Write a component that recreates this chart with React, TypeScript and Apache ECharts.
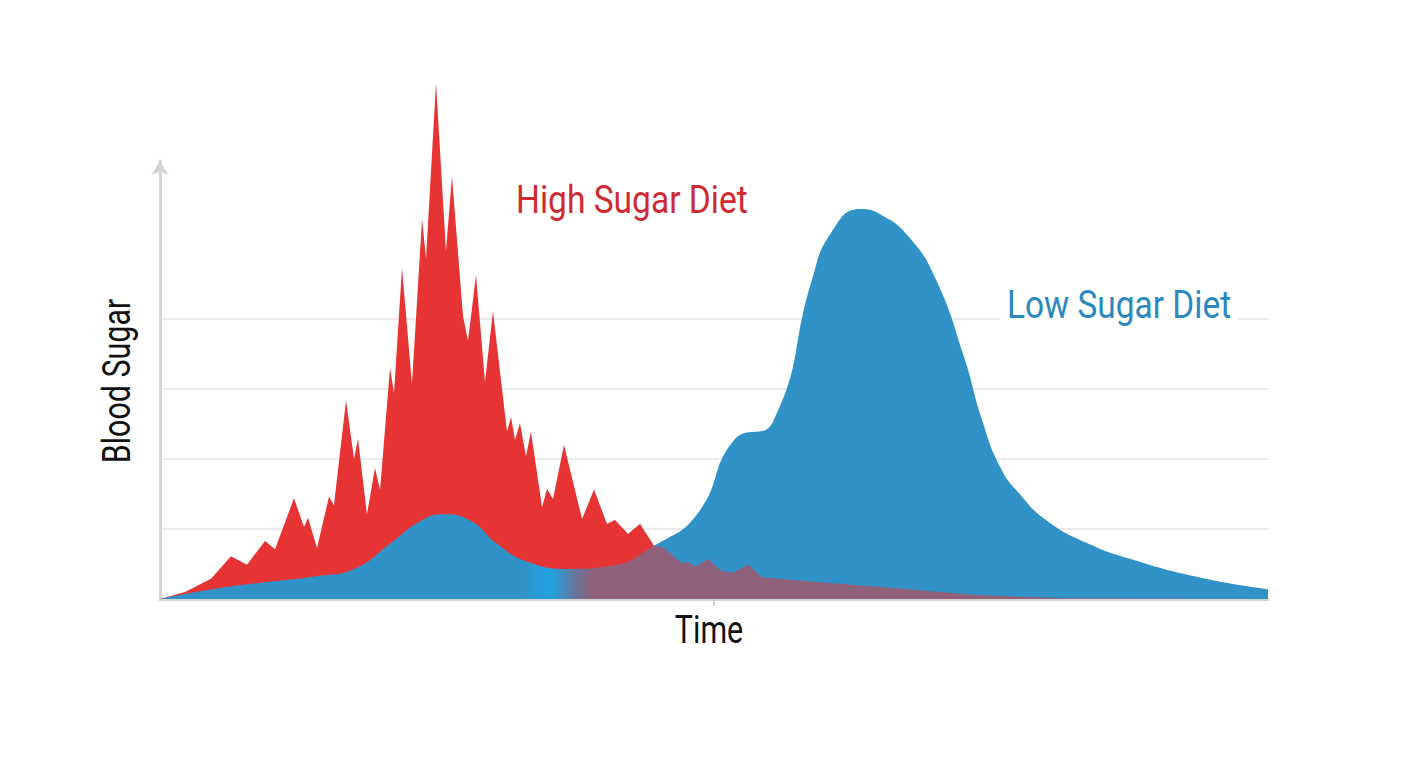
import React, { useEffect, useRef } from "react";
import * as echarts from "echarts";

// High sugar diet: time (0-100) and blood sugar (gridline units)
const redTime = [0, 2.26, 4.6, 6.41, 7.85, 9.48, 10.38, 12.09, 13.0, 13.36, 14.17, 15.25, 15.7, 16.79, 17.51, 17.87, 18.68, 19.4, 19.86, 20.76, 21.12, 21.84, 22.74, 23.65, 24.01, 24.91, 25.81, 26.35, 27.35, 27.8, 28.52, 29.33, 30.05, 31.32, 31.68, 32.04, 32.49, 33.03, 33.48, 34.48, 34.93, 35.47, 36.46, 38.09, 39.17, 40.34, 41.06, 42.24, 43.32, 44.58, 45.4, 47.11, 47.65, 48.29, 49.46, 50.54, 51.62, 53.07, 54.33, 55.14, 59.57, 65.07, 73.38, 81.68, 100];
const redSugar = [0, 0.1, 0.29, 0.61, 0.49, 0.83, 0.71, 1.44, 1.03, 1.16, 0.73, 1.46, 1.34, 2.84, 2.0, 2.29, 1.21, 1.87, 1.56, 3.3, 2.94, 4.73, 3.07, 5.43, 4.86, 7.37, 4.97, 6.04, 4.04, 3.69, 4.63, 3.1, 4.11, 2.39, 2.6, 2.27, 2.51, 2.04, 2.39, 1.31, 1.57, 1.43, 2.2, 1.14, 1.56, 1.07, 1.13, 0.93, 1.07, 0.76, 0.74, 0.51, 0.53, 0.46, 0.57, 0.41, 0.37, 0.49, 0.31, 0.3, 0.24, 0.17, 0.06, 0.01, 0];

// Low sugar diet
const blueTime = [0, 3.61, 7.85, 14.26, 17.51, 20.76, 23.38, 25.45, 27.89, 30.42, 33.03, 36.91, 40.61, 44.58, 48.56, 51.81, 55.32, 58.84, 60.56, 63.18, 65.07, 67.6, 70.04, 72.56, 74.19, 75.81, 77.53, 79.96, 83.66, 87.82, 94.04, 100];
const blueSugar = [0, 0.11, 0.21, 0.33, 0.43, 0.79, 1.1, 1.21, 1.13, 0.79, 0.54, 0.43, 0.47, 0.76, 1.23, 2.27, 2.53, 4.56, 5.23, 5.57, 5.49, 5.17, 4.56, 3.46, 2.56, 1.89, 1.51, 1.13, 0.8, 0.56, 0.3, 0.14];

const gridLevels = [0, 1, 2, 3, 4];
const timeTicks = [50];

const xLabel = "Time";
const yLabel = "Blood Sugar";
const redLabel = "High Sugar Diet";
const blueLabel = "Low Sugar Diet";

const RED = "#e63333";
const BLUE = "#3192c7";
const FONT = "Roboto, 'Liberation Sans', sans-serif";

export default function App() {
  const ref = useRef<HTMLDivElement>(null);
  useEffect(() => {
    if (!ref.current) return;
    const chart = echarts.init(ref.current, undefined, { renderer: "svg" });
    const redData = redTime.map((t, i) => [t, redSugar[i]]);
    const blueData = blueTime.map((t, i) => [t, blueSugar[i]]);
    const option: any = {
      animation: false,
      backgroundColor: "#ffffff",
      grid: [
        { left: 160, right: 140, top: 161, bottom: 169, containLabel: false },
        { left: 160, right: 140, top: 319, bottom: 169, containLabel: false },
      ],
      xAxis: [
        {
          type: "value",
          gridIndex: 0,
          min: 0,
          max: 100,
          axisLine: { show: true, lineStyle: { color: "#d4d4d4", width: 3 } },
          axisTick: { show: true, customValues: timeTicks, length: 7, lineStyle: { color: "#cfcfcf", width: 2 } },
          axisLabel: { show: false },
          splitLine: { show: false },
        },
        { type: "value", gridIndex: 1, min: 0, max: 100, show: false },
      ],
      yAxis: [
        {
          type: "value",
          gridIndex: 0,
          min: 0,
          max: 6.257,
          axisLine: {
            show: true,
            symbol: ["none", "arrow"],
            symbolSize: [13, 14],
            lineStyle: { color: "#d4d4d4", width: 3 },
          },
          axisTick: { show: false },
          axisLabel: { show: false },
          splitLine: { show: false },
        },
        {
          type: "value",
          gridIndex: 1,
          min: gridLevels[0],
          max: gridLevels[gridLevels.length - 1],
          interval: 1,
          axisLine: { show: false },
          axisTick: { show: false },
          axisLabel: { show: false },
          splitLine: { show: true, showMinLine: false, lineStyle: { color: "#ebebeb", width: 2 } },
        },
      ],
      series: [
        {
          type: "line",
          name: redLabel,
          xAxisIndex: 0,
          yAxisIndex: 0,
          data: redData,
          clip: false,
          smooth: false,
          symbol: "none",
          lineStyle: { width: 0 },
          areaStyle: { color: RED, opacity: 1 },
          z: 2,
        },
        {
          type: "line",
          name: blueLabel,
          xAxisIndex: 0,
          yAxisIndex: 0,
          data: blueData,
          clip: false,
          smooth: 0.5,
          symbol: "none",
          lineStyle: { width: 0 },
          areaStyle: {
            opacity: 1,
            color: new echarts.graphic.LinearGradient(0, 0, 1, 0, [
              { offset: 0, color: BLUE },
              { offset: 0.325, color: BLUE },
              { offset: 0.35, color: "#22a2e0" },
              { offset: 0.375, color: BLUE },
              { offset: 1, color: BLUE },
            ]),
          },
          z: 3,
        },
        {
          type: "line",
          name: redLabel + " overlay",
          xAxisIndex: 0,
          yAxisIndex: 0,
          data: redData,
          clip: false,
          smooth: false,
          symbol: "none",
          lineStyle: { width: 0 },
          areaStyle: {
            opacity: 1,
            color: new echarts.graphic.LinearGradient(0, 0, 1, 0, [
              { offset: 0, color: "rgba(230,51,51,0)" },
              { offset: 0.355, color: "rgba(230,51,51,0)" },
              { offset: 0.39, color: "rgba(230,51,51,0.52)" },
              { offset: 1, color: "rgba(230,51,51,0.52)" },
            ]),
          },
          z: 4,
        },
      ],
      graphic: [
        {
          type: "text",
          x: 516,
          y: 200,
          scaleX: 0.86,
          z: 100,
          style: { text: redLabel, fill: "#cf2a32", font: `39px ${FONT}`, textAlign: "left", textVerticalAlign: "middle" },
        },
        {
          type: "text",
          x: 1000,
          y: 305,
          scaleX: 0.88,
          z: 100,
          style: {
            text: blueLabel,
            fill: "#2b88bd",
            font: `38px ${FONT}`,
            textAlign: "left",
            textVerticalAlign: "middle",
            backgroundColor: "#ffffff",
            padding: [2, 8, 2, 8],
          },
        },
        {
          type: "text",
          x: 709,
          y: 630,
          scaleX: 0.78,
          z: 100,
          style: { text: xLabel, fill: "#111111", font: `39px ${FONT}`, textAlign: "center", textVerticalAlign: "middle" },
        },
        {
          type: "text",
          x: 117,
          y: 381,
          rotation: Math.PI / 2,
          scaleX: 0.78,
          z: 100,
          style: { text: yLabel, fill: "#111111", font: `39px ${FONT}`, textAlign: "center", textVerticalAlign: "middle" },
        },
      ],
    };
    chart.setOption(option);
    return () => chart.dispose();
  }, []);
  return <div ref={ref} style={{ position: "fixed", left: 0, top: 0, width: 1408, height: 768, background: "#fff" }} />;
}
